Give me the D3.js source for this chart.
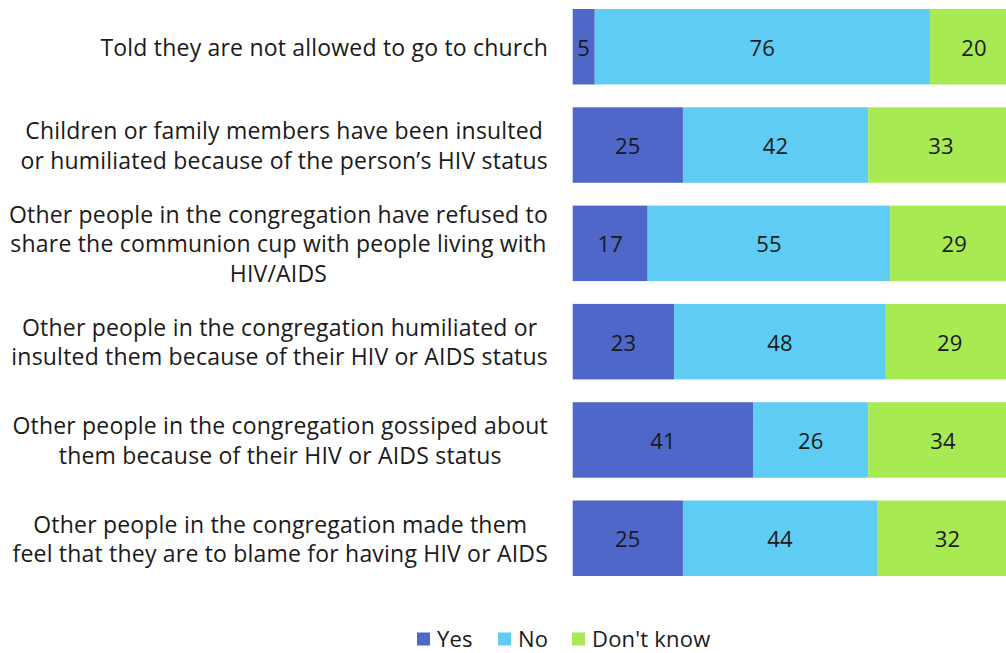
<!DOCTYPE html>
<html>
<head>
<meta charset="utf-8">
<script src="https://cdn.jsdelivr.net/npm/d3@7"></script>
<style>
  html, body { margin: 0; padding: 0; background: #fff; }
  svg { display: block; }
  text { font-family: "Open Sans", Lato, sans-serif; fill: #1a1a1a; letter-spacing: 0.2px; }
</style>
</head>
<body>
<svg id="chart" width="1006" height="653"></svg>
<script>
// Survey items (each label split into its display lines)
const categories = [
  ["Told they are not allowed to go to church"],
  ["Children or family members have been insulted", "or humiliated because of the person\u2019s HIV status"],
  ["Other people in the congregation have refused to", "share the communion cup with people living with", "HIV/AIDS"],
  ["Other people in the congregation humiliated or", "insulted them because of their HIV or AIDS status"],
  ["Other people in the congregation gossiped about", "them because of their HIV or AIDS status"],
  ["Other people in the congregation made them", "feel that they are to blame for having HIV or AIDS"]
];
const seriesNames = ["Yes", "No", "Don't know"];
const yesValues = [5, 25, 17, 23, 41, 25];
const noValues = [76, 42, 55, 48, 26, 44];
const dontKnowValues = [20, 33, 29, 29, 34, 32];
const colors = ["#4E67C8", "#5ECCF3", "#A7EA52"];

const svg = d3.select("#chart");
const fontSize = 23;
const lineHeight = 29.5;
const labelRight = 548;

const keys = categories.map((c, i) => "c" + i);
const rows = keys.map((k, i) => ({
  key: k, lines: categories[i],
  "Yes": yesValues[i], "No": noValues[i], "Don't know": dontKnowValues[i]
}));

const x = d3.scaleLinear().domain([0, 100]).range([572.7, 1013.7]);
const y = d3.scaleBand().domain(keys).range([-2.4, 587.4])
  .paddingInner(0.232).paddingOuter(0.116);
const color = d3.scaleOrdinal().domain(seriesNames).range(colors);

const stacked = d3.stack().keys(seriesNames)(rows);

// Stacked segments
const layers = svg.append("g").selectAll("g")
  .data(stacked).join("g")
  .attr("fill", d => color(d.key));

layers.selectAll("rect")
  .data(d => d.map(s => ({ s, key: d.key })))
  .join("rect")
  .attr("x", d => x(d.s[0]))
  .attr("y", d => y(d.s.data.key))
  .attr("width", d => x(d.s[1]) - x(d.s[0]))
  .attr("height", y.bandwidth());

// Value labels centred in each segment
layers.selectAll("text")
  .data(d => d.map(s => ({ s, key: d.key })))
  .join("text")
  .attr("x", d => (x(d.s[0]) + x(d.s[1])) / 2)
  .attr("y", d => y(d.s.data.key) + y.bandwidth() / 2)
  .attr("text-anchor", "middle")
  .attr("dominant-baseline", "central")
  .attr("font-size", fontSize - 1)
  .text(d => d.s.data[d.key]);

// Category labels: lines centred within a block whose right edge is fixed
const labelG = svg.append("g");
rows.forEach(r => {
  const g = labelG.append("g");
  const n = r.lines.length;
  const cy = y(r.key) + y.bandwidth() / 2;
  const texts = r.lines.map((line, j) =>
    g.append("text")
      .attr("font-size", fontSize)
      .attr("text-anchor", "middle")
      .attr("dominant-baseline", "central")
      .attr("y", cy + (j - (n - 1) / 2) * lineHeight)
      .text(line)
  );
  const maxW = d3.max(texts, t => t.node().getComputedTextLength());
  texts.forEach(t => t.attr("x", labelRight - maxW / 2));
});

// Legend
const legend = svg.append("g");
const legendY = 638;
const legendX = [417, 498, 572];
seriesNames.forEach((name, i) => {
  legend.append("rect")
    .attr("x", legendX[i]).attr("y", legendY - 5.5)
    .attr("width", 13).attr("height", 13)
    .attr("fill", color(name));
  legend.append("text")
    .attr("x", legendX[i] + 20).attr("y", legendY)
    .attr("dominant-baseline", "central")
    .attr("font-size", fontSize - 1)
    .text(name);
});
</script>
</body>
</html>
